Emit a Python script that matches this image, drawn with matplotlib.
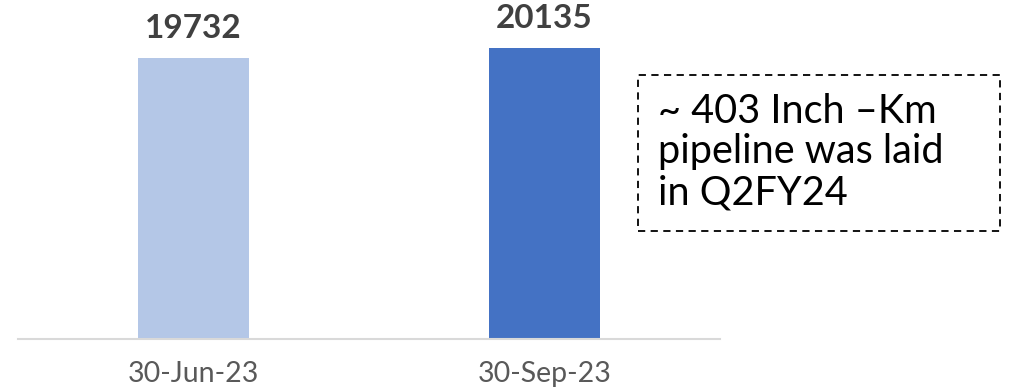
import matplotlib.pyplot as plt
from matplotlib.patches import Rectangle

categories = ['30-Jun-23', '30-Sep-23']
values = [19732, 20135]
bar_colors = ['#b4c7e7', '#4472c4']
note_lines = ['~ 403 Inch \u2013Km', 'pipeline was laid', 'in Q2FY24']

plt.rcParams['font.family'] = ['Lato', 'DejaVu Sans']

fig = plt.figure(figsize=(10.17, 3.89), dpi=100)
ax = fig.add_axes([18 / 1017, 50 / 389, 702 / 1017, 339 / 389])

x = range(len(categories))
bars = ax.bar(x, values, width=0.316, color=bar_colors)

ax.set_xlim(-0.5, 1.5)
ax.set_ylim(8400, 22070)

for rect, v in zip(bars, values):
    ax.annotate(str(v), (rect.get_x() + rect.get_width() / 2, v),
                xytext=(0, 11), textcoords='offset points',
                ha='center', va='bottom', fontsize=24, fontweight='bold',
                color='#404040')

ax.set_xticks(list(x))
ax.set_xticklabels(categories, fontsize=20.5, color='#595959')
ax.tick_params(axis='x', length=0, pad=16)
ax.set_yticks([])
for side in ['top', 'right', 'left']:
    ax.spines[side].set_visible(False)
ax.spines['bottom'].set_color('#d9d9d9')
ax.spines['bottom'].set_linewidth(1.5)

# dashed call-out box on the right
box = Rectangle((638 / 1017, 1 - 231 / 389), 362 / 1017, 156 / 389,
                transform=fig.transFigure, fill=False, edgecolor='black',
                linestyle=(0, (4, 3)), linewidth=1.3)
fig.patches.append(box)
fig.text(658 / 1017, 1 - 152 / 389, '\n'.join(note_lines), fontsize=28.5,
         color='black', ha='left', va='center', linespacing=1.13)

fig.savefig('out.png', dpi=100)
